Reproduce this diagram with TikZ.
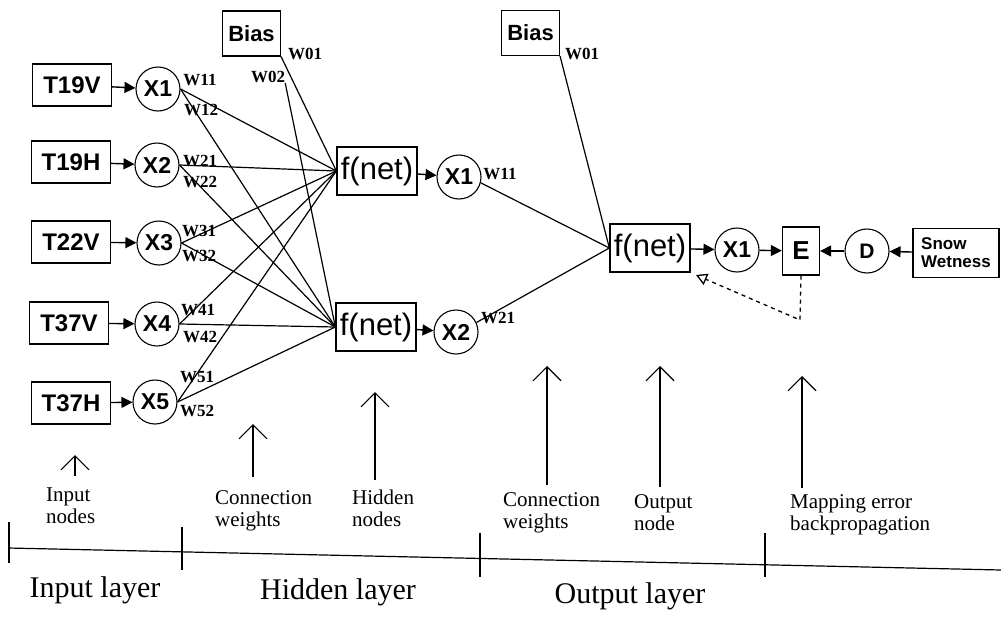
\documentclass[tikz,border=0pt]{standalone}
\usepackage{fontspec}
\setmainfont{Liberation Serif}
\setsansfont{Liberation Sans}
\usetikzlibrary{arrows.meta}
\tikzset{
  inbox/.style={draw, line width=1.3pt, minimum width=79pt, minimum height=42pt, inner sep=0pt,
    font=\sffamily\bfseries\fontsize{24}{24}\selectfont},
  unit/.style={draw, circle, line width=1.1pt, minimum size=44pt, inner sep=0pt,
    font=\sffamily\bfseries\fontsize{23}{23}\selectfont},
  fbox/.style={draw, line width=1.3pt, minimum width=80pt, minimum height=48pt, inner sep=0pt,
    font=\sffamily\fontsize{31}{31}\selectfont},
  biasbox/.style={draw, line width=1.1pt, minimum width=58pt, minimum height=45pt, inner sep=0pt,
    font=\sffamily\bfseries\fontsize{22}{22}\selectfont},
  wlab/.style={inner sep=0pt, font=\rmfamily\bfseries\fontsize{17}{17}\selectfont},
  wire/.style={line width=1.2pt},
  feed/.style={line width=1.4pt, -{Triangle[length=11pt,width=11pt]}},
  pointer/.style={line width=1.1pt, -{Straight Barb[length=14pt,width=28pt]}},
  note/.style={inner sep=0pt, align=left, anchor=north west,
    font=\rmfamily\fontsize{21}{22}\selectfont},
  layer/.style={inner sep=0pt, font=\rmfamily\fontsize{30}{30}\selectfont},
  rule/.style={line width=1.2pt}
}
\begin{document}
\begin{tikzpicture}[x=1pt, y=-1pt]
\fill[white] (0,0) rectangle (1001,616);
\useasboundingbox (0,0) rectangle (1001,616);

% ---- input layer ----
\node[inbox] (t1) at (72,85)  {T19V};
\node[inbox] (t2) at (71,162) {T19H};
\node[inbox] (t3) at (71,242) {T22V};
\node[inbox] (t4) at (69,323) {T37V};
\node[inbox] (t5) at (71,403) {T37H};

\node[unit] (x1) at (158,89)  {X1};
\node[unit] (x2) at (157,165) {X2};
\node[unit] (x3) at (159,243) {X3};
\node[unit] (x4) at (157,324) {X4};
\node[unit] (x5) at (155,402) {X5};

\foreach \i in {1,...,5} \draw[feed] (t\i) -- (x\i);

% ---- hidden layer ----
\node[biasbox] (b1) at (251.5,33.5) {Bias};
\node[fbox] (f1) at (377,171) {f(net)};
\node[fbox] (f2) at (376,327) {f(net)};
\node[unit] (h1) at (459,177) {X1};
\node[unit] (h2) at (456,332) {X2};
\draw[feed] (f1) -- (h1);
\draw[feed] (f2) -- (h2);

\node[wlab] at (305,54) {W01};
\node[wlab] (w02) at (268,77) {W02};

\foreach \i in {1,...,5} {
  \draw[wire] (x\i.east) -- (f1.west);
  \draw[wire] (x\i.east) -- (f2.west);
}
\draw[wire] (b1.south east) -- (f1.west);
\draw[wire] (w02.south east) -- (f2.west);

\node[wlab] at (200,80)  {W11};
\node[wlab] at (201,110) {W12};
\node[wlab] at (200,161) {W21};
\node[wlab] at (200,182) {W22};
\node[wlab] at (199,231) {W31};
\node[wlab] at (199,256) {W32};
\node[wlab] at (198,310) {W41};
\node[wlab] at (200,337) {W42};
\node[wlab] at (197,377) {W51};
\node[wlab] at (197,411) {W52};

% ---- output layer ----
\node[biasbox] (b2) at (530.5,33) {Bias};
\node[wlab] at (582,54) {W01};
\node[fbox] (f3) at (650,248) {f(net)};
\node[unit] (o1) at (737,250) {X1};
\node[draw, line width=1.3pt, minimum width=37pt, minimum height=48pt, inner sep=0pt,
      font=\sffamily\bfseries\fontsize{26}{26}\selectfont] (e) at (801,251) {E};
\node[unit, font=\sffamily\bfseries\fontsize{21}{21}\selectfont] (d) at (867,251) {D};
\node[draw, line width=1.1pt, minimum width=86pt, minimum height=49pt, inner sep=0pt,
      align=left, font=\sffamily\bfseries\fontsize{17}{18}\selectfont] (sw) at (956,253) {Snow\\Wetness};

\draw[wire] (b2.south east) -- (f3.west);
\draw[wire] (h1.-15) -- (f3.west);
\draw[wire] (h2.25) -- (f3.west);
\node[wlab] at (500,174) {W11};
\node[wlab] at (498,318) {W21};

\draw[feed] (f3) -- (o1);
\draw[feed] (o1) -- (e);
\draw[feed] (d) -- (e);
\draw[feed] (sw) -- (d);

% error fed back to the output node
\coordinate (turn) at (800,320);
\coordinate (back) at (696,275);
\draw[line width=1.3pt, dash pattern=on 4pt off 4pt,
      -{Triangle[open,length=11pt,width=12pt]}] (e.south) -- (turn) -- (back);

% ---- annotation pointers ----
\coordinate (p1b) at (75,476);  \coordinate (p1t) at (75,455);
\coordinate (p2b) at (253,477); \coordinate (p2t) at (253,424);
\coordinate (p3b) at (375,480); \coordinate (p3t) at (375,392);
\coordinate (p4b) at (547,485); \coordinate (p4t) at (547,366);
\coordinate (p5b) at (660,487); \coordinate (p5t) at (660,366);
\coordinate (p6b) at (802,488); \coordinate (p6t) at (802,376);
\foreach \k in {1,...,6} \draw[pointer] (p\k b) -- (p\k t);

\node[note] at (46,488)  {Input\\nodes};
\node[note] at (215,490) {Connection\\weights};
\node[note] at (352,490) {Hidden\\nodes};
\node[note] at (503,492) {Connection\\weights};
\node[note] at (634,494) {Output\\node};
\node[note] at (790,494) {Mapping error\\backpropagation};

% ---- layer scale ----
\coordinate (r0) at (8,548);
\coordinate (r1) at (1001,570);
\draw[rule] (r0) -- (r1);
\draw[rule] (9,522) -- (9,563);
\draw[rule] (182,527) -- (182,570);
\draw[rule] (480,533) -- (480,577);
\draw[rule] (765,533) -- (765,577);

\node[layer] at (95,590)  {Input layer};
\node[layer] at (338,592) {Hidden layer};
\node[layer] at (630,596) {Output layer};
\end{tikzpicture}
\end{document}
